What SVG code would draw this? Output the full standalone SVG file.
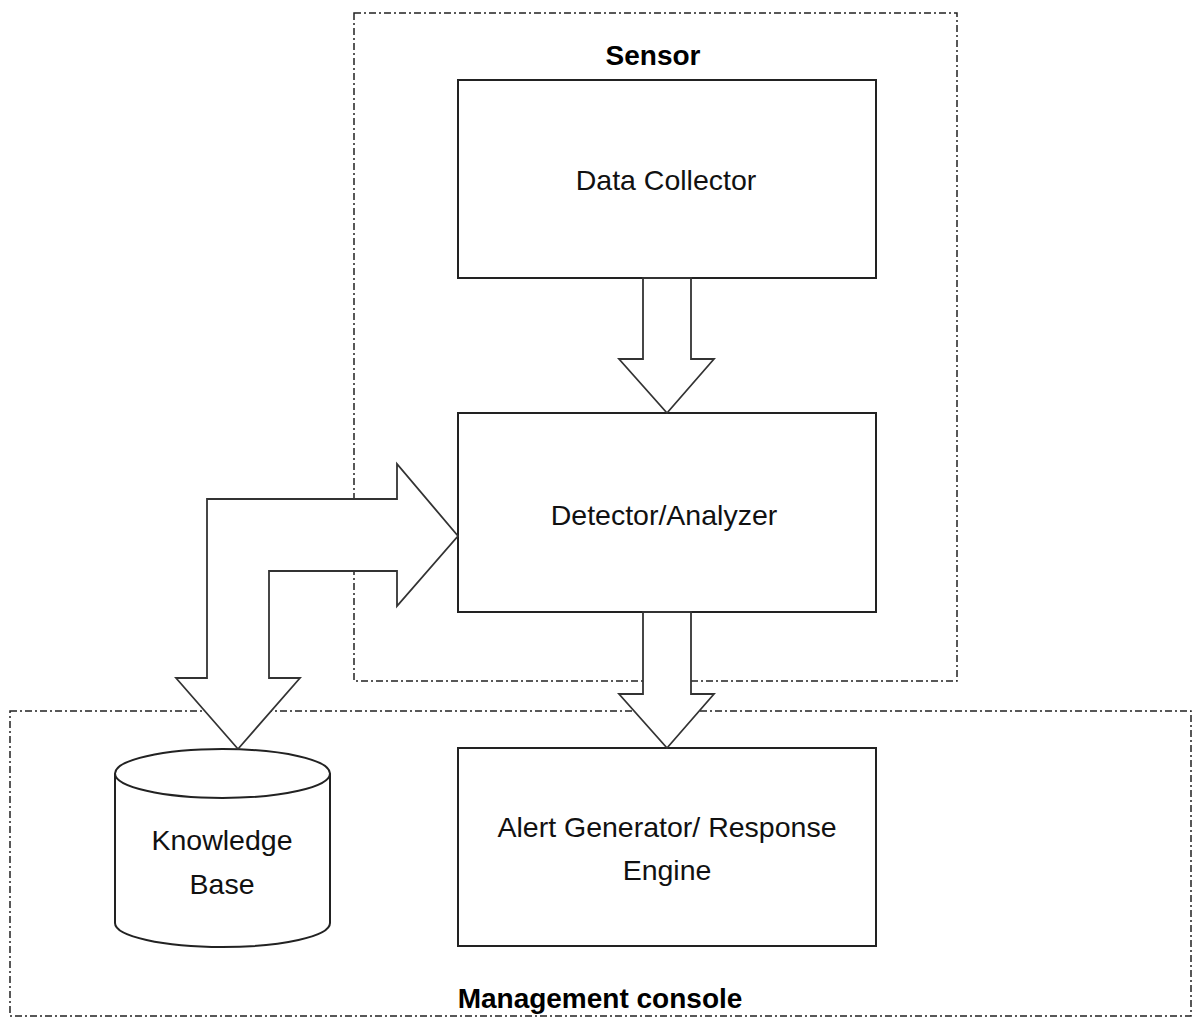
<svg xmlns="http://www.w3.org/2000/svg" width="1197" height="1020" viewBox="0 0 1197 1020">
<style>
.bg{fill:#ffffff}
.zone{fill:none;stroke:#222;stroke-width:1.5;stroke-dasharray:7 3 2 3}
.box{fill:#fff;stroke:#222;stroke-width:2}
.arrow{fill:#fff;stroke:#333;stroke-width:1.8;stroke-linejoin:miter}
.lbl{font-family:"Liberation Sans",Arial,sans-serif;font-size:28.5px;fill:#111;text-anchor:middle}
.title{font-family:"Liberation Sans",Arial,sans-serif;font-size:28px;font-weight:bold;fill:#000;text-anchor:middle}
</style>
<rect class="bg" x="0" y="0" width="1197" height="1020"/>
<g id="sensor">
<rect class="zone" x="354" y="13" width="603" height="668"/>
<text class="title" x="653" y="65">Sensor</text>
</g>
<g id="management-console">
<rect class="zone" x="10" y="711" width="1181" height="305"/>
<text class="title" x="600" y="1008">Management console</text>
</g>
<g id="data-collector">
<rect class="box" x="458" y="80" width="418" height="198"/>
<text class="lbl" x="666" y="190">Data Collector</text>
</g>
<g id="detector-analyzer">
<rect class="box" x="458" y="413" width="418" height="199"/>
<text class="lbl" x="664" y="525">Detector/Analyzer</text>
</g>
<g id="alert-generator">
<rect class="box" x="458" y="748" width="418" height="198"/>
<text class="lbl" x="667" y="837">Alert Generator/ Response</text>
<text class="lbl" x="667" y="880">Engine</text>
</g>
<g id="knowledge-base">
<path class="box" d="M115,773.5 L115,923 A107.5,24 0 0 0 330,923 L330,773.5"/>
<ellipse class="box" cx="222.5" cy="773.5" rx="107.5" ry="24.5"/>
<text class="lbl" x="222" y="850">Knowledge</text>
<text class="lbl" x="222" y="894">Base</text>
</g>
<g id="connectors">
<polygon class="arrow" points="643,278 691,278 691,359 714,359 667,413 619,359 643,359"/>
<polygon class="arrow" points="643,612 691,612 691,694 714,694 667,748 619,694 643,694"/>
<polygon class="arrow" points="458,536 397,464 397,499 207,499 207,678 176,678 238,749 300,678 269,678 269,571 397,571 397,606"/>
</g>
</svg>
